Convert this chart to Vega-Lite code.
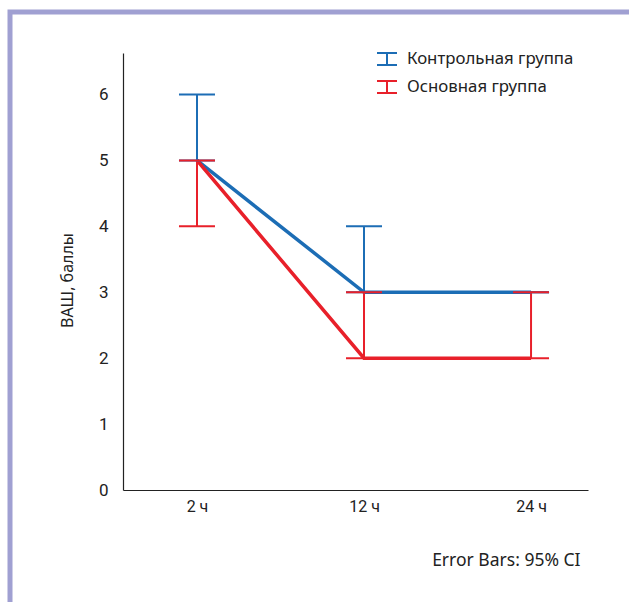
{
  "$schema": "https://vega.github.io/schema/vega-lite/v6.json",
  "autosize": {"type": "none"},
  "width": 619,
  "height": 590,
  "padding": {"left": 10, "top": 12, "right": 0, "bottom": 0},
  "background": "white",
  "data": {
    "values": [
      {"group": "Контрольная группа", "time": "2 ч", "mean": 5, "lo": 5, "hi": 6},
      {"group": "Контрольная группа", "time": "12 ч", "mean": 3, "lo": 3, "hi": 4},
      {"group": "Контрольная группа", "time": "24 ч", "mean": 3, "lo": 3, "hi": 3},
      {"group": "Основная группа", "time": "2 ч", "mean": 5, "lo": 4, "hi": 5},
      {"group": "Основная группа", "time": "12 ч", "mean": 2, "lo": 2, "hi": 3},
      {"group": "Основная группа", "time": "24 ч", "mean": 2, "lo": 2, "hi": 3}
    ]
  },
  "config": {
    "view": {"stroke": "#a0a0d2", "strokeWidth": 5, "strokeDash": [619, 1209, 590], "strokeCap": "square"},
    "axisX": {
      "orient": "bottom", "offset": -112, "ticks": false, "grid": false,
      "domainColor": "#222", "domainWidth": 1.2,
      "labelFont": "Liberation Sans Narrow, Roboto, sans-serif", "labelFontSize": 16, "labelColor": "#222", "labelPadding": 8, "labelAngle": 0,
      "titleFont": "Noto Sans", "titleFontSize": 17.5, "titleFontWeight": "normal", "titleColor": "#222",
      "titleX": 570, "titleY": 70, "titleAlign": "right", "titleBaseline": "middle", "titleAnchor": null
    },
    "axisY": {
      "orient": "left", "offset": -113, "ticks": false, "grid": false,
      "domainColor": "#222", "domainWidth": 1.2,
      "labelFont": "Liberation Sans Narrow, Roboto, sans-serif", "labelFontSize": 17, "labelColor": "#222", "labelPadding": 15,
      "titleFont": "Noto Sans", "titleFontSize": 16, "titleFontWeight": "normal", "titleColor": "#222",
      "titleX": -56, "titleY": 268, "titleAlign": "center", "titleBaseline": "middle", "titleAngle": -90
    },
    "legend": {
      "orient": "none", "legendX": 366, "legendY": 36, "padding": 0,
      "labelFont": "Noto Sans", "labelFontSize": 16.8, "labelColor": "#222", "labelOffset": 9, "labelLimit": 400,
      "symbolType": "M-1,-0.6H1M0,-0.6V0.6M-1,0.6H1", "symbolSize": 400, "symbolStrokeWidth": 2,
      "symbolFillColor": "transparent", "symbolOpacity": 1, "rowPadding": 7, "direction": "vertical"
    }
  },
  "encoding": {
    "x": {
      "field": "time", "type": "nominal", "title": "Error Bars: 95% CI",
      "scale": {"type": "point", "domain": ["2 ч", "12 ч", "24 ч"], "range": [113, 578], "padding": 0.392, "align": 0.565}
    },
    "color": {
      "field": "group", "type": "nominal", "title": null,
      "scale": {"domain": ["Контрольная группа", "Основная группа"], "range": ["#1c6db5", "#e8202a"]}
    }
  },
  "layer": [
    {
      "mark": {"type": "line", "strokeWidth": 3.5},
      "encoding": {
        "y": {"field": "mean", "type": "quantitative", "title": "ВАШ, баллы",
          "scale": {"domain": [0, 6.63], "range": [478, 41], "nice": false},
          "axis": {"values": [0, 1, 2, 3, 4, 5, 6], "format": "d"}}
      }
    },
    {
      "mark": {"type": "rule", "strokeWidth": 2, "opacity": 1},
      "encoding": {
        "y": {"field": "lo", "type": "quantitative", "title": "ВАШ, баллы"},
        "y2": {"field": "hi"}
      }
    },
    {
      "mark": {"type": "tick", "orient": "horizontal", "size": 36, "thickness": 2, "opacity": 1},
      "encoding": {
        "y": {"field": "lo", "type": "quantitative", "title": "ВАШ, баллы"}
      }
    },
    {
      "mark": {"type": "tick", "orient": "horizontal", "size": 36, "thickness": 2, "opacity": 1},
      "encoding": {
        "y": {"field": "hi", "type": "quantitative", "title": "ВАШ, баллы"}
      }
    }
  ]
}
